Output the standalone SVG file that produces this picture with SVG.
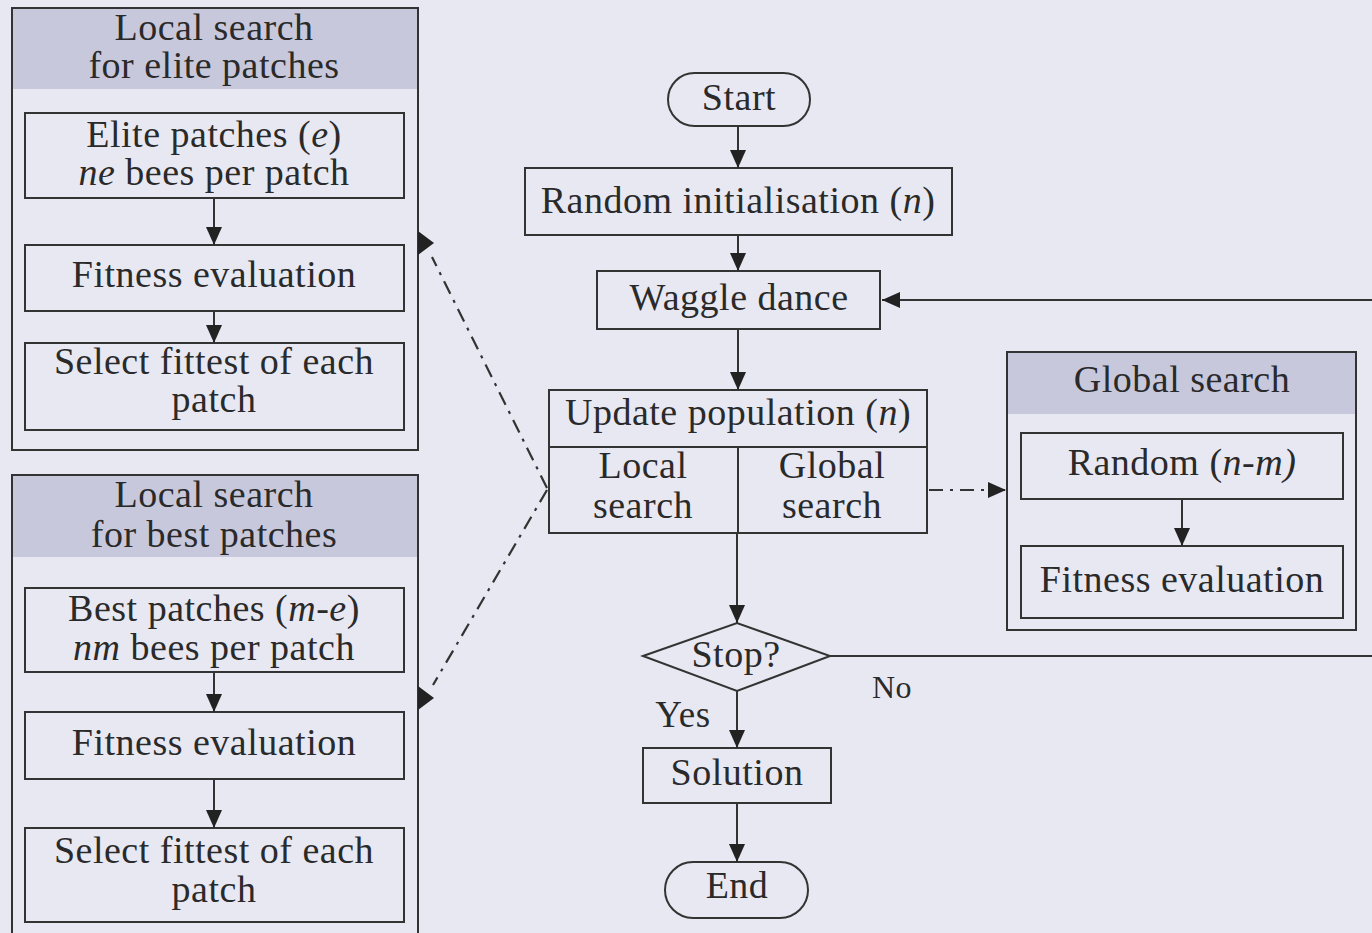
<svg xmlns="http://www.w3.org/2000/svg" width="1372" height="933" viewBox="0 0 1372 933">
  <style>
    .box { fill: none; stroke: #333; stroke-width: 2; }
    .frame { fill: none; stroke: #333; stroke-width: 2; }
    .head { fill: #c8c8dc; }
    .t { font-family: "Liberation Serif", "Times New Roman", serif; font-size: 38px; letter-spacing: 0.5px; fill: #2a2a2a; text-anchor: middle; }
    .i { font-style: italic; }
    .flow { fill: none; stroke: #333; stroke-width: 2; }
    .dd { fill: none; stroke: #333; stroke-width: 2.2; stroke-dasharray: 14 7 3 7; }
    .tri { fill: #222; }
  </style>
  <defs>
    <marker id="arr" markerUnits="userSpaceOnUse" markerWidth="18" markerHeight="16" refX="18" refY="8" orient="auto">
      <path d="M0,0 L18,8 L0,16 z" fill="#222"/>
    </marker>
  </defs>

  <rect x="0" y="0" width="1372" height="933" fill="#e8e8f3"/>

  <!-- Local search for elite patches -->
  <g id="elite-search">
    <rect class="head" x="12" y="8" width="406" height="81"/>
    <rect class="frame" x="12" y="8" width="406" height="442"/>
    <text class="t" x="214" y="40">Local search</text>
    <text class="t" x="214" y="78">for elite patches</text>
  </g>
  <g id="elite-patches">
    <rect class="box" x="25" y="113" width="379" height="85"/>
    <text class="t" x="214" y="147">Elite patches (<tspan class="i">e</tspan>)</text>
    <text class="t" x="214" y="185"><tspan class="i">ne</tspan> bees per patch</text>
  </g>
  <g id="elite-fitness">
    <rect class="box" x="25" y="245" width="379" height="66"/>
    <text class="t" x="214" y="287">Fitness evaluation</text>
  </g>
  <g id="elite-select">
    <rect class="box" x="25" y="343" width="379" height="87"/>
    <text class="t" x="214" y="374">Select fittest of each</text>
    <text class="t" x="214" y="412">patch</text>
  </g>

  <!-- Local search for best patches -->
  <g id="best-search">
    <rect class="head" x="12" y="475" width="406" height="82"/>
    <rect class="frame" x="12" y="475" width="406" height="470"/>
    <text class="t" x="214" y="507">Local search</text>
    <text class="t" x="214" y="547">for best patches</text>
  </g>
  <g id="best-patches">
    <rect class="box" x="25" y="588" width="379" height="84"/>
    <text class="t" x="214" y="621">Best patches (<tspan class="i">m-e</tspan>)</text>
    <text class="t" x="214" y="660"><tspan class="i">nm</tspan> bees per patch</text>
  </g>
  <g id="best-fitness">
    <rect class="box" x="25" y="712" width="379" height="67"/>
    <text class="t" x="214" y="755">Fitness evaluation</text>
  </g>
  <g id="best-select">
    <rect class="box" x="25" y="828" width="379" height="94"/>
    <text class="t" x="214" y="863">Select fittest of each</text>
    <text class="t" x="214" y="902">patch</text>
  </g>

  <!-- Main flow -->
  <g id="start">
    <rect class="box" x="668" y="73" width="142" height="53" rx="26.5"/>
    <text class="t" x="739" y="110">Start</text>
  </g>
  <g id="random-init">
    <rect class="box" x="525" y="168" width="427" height="67"/>
    <text class="t" x="738" y="213">Random initialisation (<tspan class="i">n</tspan>)</text>
  </g>
  <g id="waggle-dance">
    <rect class="box" x="597" y="271" width="283" height="58"/>
    <text class="t" x="739" y="310">Waggle dance</text>
  </g>
  <g id="update-population">
    <rect class="box" x="549" y="390" width="378" height="143"/>
    <line class="box" x1="549" y1="447" x2="927" y2="447"/>
    <line class="box" x1="738" y1="447" x2="738" y2="533"/>
    <text class="t" x="738" y="425">Update population (<tspan class="i">n</tspan>)</text>
    <text class="t" x="643" y="478">Local</text>
    <text class="t" x="643" y="518">search</text>
    <text class="t" x="832" y="478">Global</text>
    <text class="t" x="832" y="518">search</text>
  </g>
  <g id="stop">
    <polygon class="box" points="643,656 737,623 830,656 737,691"/>
    <text class="t" x="736" y="667">Stop?</text>
  </g>
  <g id="solution">
    <rect class="box" x="643" y="748" width="188" height="55"/>
    <text class="t" x="737" y="785">Solution</text>
  </g>
  <g id="end">
    <rect class="box" x="665" y="862" width="143" height="56" rx="28"/>
    <text class="t" x="737" y="898">End</text>
  </g>

  <!-- Global search -->
  <g id="global-search">
    <rect class="head" x="1007" y="352" width="349" height="62"/>
    <rect class="frame" x="1007" y="352" width="349" height="278"/>
    <text class="t" x="1182" y="392">Global search</text>
  </g>
  <g id="global-random">
    <rect class="box" x="1021" y="433" width="322" height="66"/>
    <text class="t" x="1182" y="475">Random (<tspan class="i">n-m)</tspan></text>
  </g>
  <g id="global-fitness">
    <rect class="box" x="1021" y="546" width="322" height="72"/>
    <text class="t" x="1182" y="592">Fitness evaluation</text>
  </g>

  <!-- Connectors -->
  <g id="connectors">
    <line class="flow" x1="214" y1="198" x2="214" y2="245" marker-end="url(#arr)"/>
    <line class="flow" x1="214" y1="311" x2="214" y2="343" marker-end="url(#arr)"/>
    <line class="flow" x1="214" y1="672" x2="214" y2="712" marker-end="url(#arr)"/>
    <line class="flow" x1="214" y1="779" x2="214" y2="828" marker-end="url(#arr)"/>

    <line class="flow" x1="738" y1="126" x2="738" y2="168" marker-end="url(#arr)"/>
    <line class="flow" x1="738" y1="235" x2="738" y2="271" marker-end="url(#arr)"/>
    <line class="flow" x1="738" y1="329" x2="738" y2="390" marker-end="url(#arr)"/>
    <line class="flow" x1="737" y1="533" x2="737" y2="623" marker-end="url(#arr)"/>
    <line class="flow" x1="737" y1="691" x2="737" y2="748" marker-end="url(#arr)"/>
    <line class="flow" x1="737" y1="803" x2="737" y2="862" marker-end="url(#arr)"/>
    <line class="flow" x1="1182" y1="499" x2="1182" y2="546" marker-end="url(#arr)"/>

    <!-- No branch loops back to the waggle dance -->
    <path class="flow" d="M830,656 H1395 V300 H882" marker-end="url(#arr)"/>
    <text class="t" x="892" y="698" style="font-size:32px">No</text>
    <text class="t" x="683" y="727" style="font-size:37px">Yes</text>

    <!-- dash-dot links to the search panels -->
    <line class="dd" x1="929" y1="490" x2="1006" y2="490" marker-end="url(#arr)"/>
    <line class="dd" x1="547" y1="488" x2="432" y2="257"/>
    <line class="dd" x1="547" y1="490" x2="433" y2="685"/>
    <polygon class="tri" points="418,231 434,243 418,255"/>
    <polygon class="tri" points="418,686 434,698 418,710"/>
  </g>
</svg>
